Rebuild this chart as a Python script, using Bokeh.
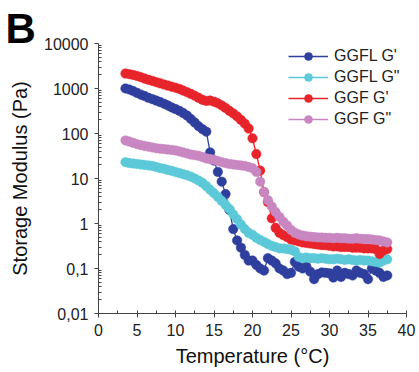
from bokeh.plotting import figure
from bokeh.models import Range1d, FixedTicker, SingleIntervalTicker, Legend, LegendItem, Title
from bokeh.embed import file_html
from bokeh.resources import INLINE

temperature = [3.5, 4.0, 4.5, 5.0, 5.5, 6.0, 6.5, 7.0, 7.5, 8.0, 8.5, 9.0, 9.5, 10.0,
               10.5, 11.0, 11.5, 12.0, 12.5, 13.0, 13.5, 14.0, 14.5, 15.0, 15.5, 16.0,
               16.5, 17.0, 17.5, 18.0, 18.5, 19.0, 19.5, 20.0, 20.5, 21.0, 21.5, 22.0,
               22.5, 23.0, 23.5, 24.0, 24.5, 25.0, 25.5, 26.0, 26.5, 27.0, 27.5, 28.0,
               28.5, 29.0, 29.5, 30.0, 30.5, 31.0, 31.5, 32.0, 32.5, 33.0, 33.5, 34.0,
               34.5, 35.0, 35.5, 36.0, 36.5, 37.0, 37.5]

ggfl_g1 = [1000, 950, 880, 800, 730, 680, 620, 580, 540, 500, 460, 420, 380, 350,
           320, 285, 250, 210, 175, 145, 125, 110, 38, 25, 14, 8.5,
           4.5, 2.0, 0.75, 0.42, 0.29, 0.2, 0.15, 0.15, 0.12, 0.1, 0.09, 0.17,
           0.15, 0.13, 0.1, 0.09, 0.075, 0.08, 0.14, 0.11, 0.1, 0.11, 0.085, 0.058,
           0.075, 0.082, 0.08, 0.078, 0.063, 0.09, 0.065, 0.08, 0.075, 0.07, 0.09, 0.08,
           0.075, 0.058, 0.1, 0.09, 0.08, 0.065, 0.07]

ggfl_g2 = [23, 22, 21.5, 21, 20.5, 20, 19.5, 19, 18, 17, 16.5, 15.5, 14.8, 14,
           13.2, 12.5, 11.8, 11, 10, 9, 8, 6.8, 5.6, 4.7, 3.9, 3.2,
           2.6, 2.1, 1.6, 1.25, 0.95, 0.75, 0.62, 0.56, 0.48, 0.43, 0.39, 0.35,
           0.32, 0.3, 0.28, 0.28, 0.27, 0.26, 0.24, 0.18, 0.17, 0.175, 0.17, 0.17,
           0.165, 0.17, 0.165, 0.16, 0.16, 0.165, 0.16, 0.155, 0.16, 0.155, 0.15, 0.155,
           0.15, 0.15, 0.145, 0.14, 0.135, 0.15, 0.16]

ggf_g1 = [2150, 2080, 2000, 1900, 1780, 1660, 1560, 1470, 1380, 1300, 1230, 1160, 1100, 1040,
          980, 900, 830, 760, 690, 620, 560, 530, 540, 510, 470, 420,
          370, 320, 280, 240, 200, 165, 129, 78, 35, 15, 5, 3.0,
          1.3, 0.8, 0.62, 0.55, 0.5, 0.44, 0.42, 0.40, 0.38, 0.37, 0.36, 0.35,
          0.34, 0.33, 0.33, 0.32, 0.31, 0.31, 0.30, 0.30, 0.30, 0.29, 0.29, 0.29,
          0.28, 0.28, 0.28, 0.27, 0.21, 0.25, 0.27]

ggf_g2 = [70, 66, 62, 58, 55, 53, 51, 49, 47, 46, 45, 44, 43, 42,
          40, 38, 36, 34, 33, 32, 30, 28, 27, 26, 24.5, 23,
          22, 21, 20.5, 20, 19.5, 19, 18, 17, 14, 8.5, 5, 3.3,
          2.4, 1.8, 1.4, 1.1, 0.9, 0.72, 0.62, 0.57, 0.54, 0.52, 0.51, 0.5,
          0.49, 0.49, 0.48, 0.48, 0.47, 0.48, 0.47, 0.47, 0.46, 0.46, 0.47, 0.46,
          0.45, 0.45, 0.44, 0.43, 0.42, 0.4, 0.38]

series_names = ["GGFL G'", 'GGFL G"', "GGF G'", 'GGF G"']
series_values = [ggfl_g1, ggfl_g2, ggf_g1, ggf_g2]
series_colors = ["#2E3F9E", "#5CC9D9", "#E8242B", "#C987C2"]

y_ticks = [0.01, 0.1, 1, 10, 100, 1000, 10000]
y_tick_labels = ["0,01", "0,1", "1", "10", "100", "1000", "10000"]

panel_letter = "B"

FONT = "Liberation Sans"

p = figure(width=419, height=372, y_axis_type="log",
           x_range=Range1d(0, 40), y_range=Range1d(0.01, 10000),
           output_backend="svg", toolbar_location=None,
           min_border_left=98, min_border_right=13,
           min_border_top=43, min_border_bottom=59)
p.outline_line_color = None
p.xgrid.visible = False
p.ygrid.visible = False
p.background_fill_color = "white"
p.border_fill_color = "white"

letter_title = Title(text=panel_letter, align="left", offset=-93, standoff=-16,
                     text_font=FONT, text_font_size="42px", text_font_style="bold",
                     text_color="black")
spacer_title = Title(text=" ", align="left", standoff=0, text_font=FONT,
                     text_font_size="6px", text_color="white")
p.add_layout(letter_title, "above")
p.add_layout(spacer_title, "above")

items = []
for name, vals, col in zip(series_names, series_values, series_colors):
    lr = p.line(temperature, vals, line_color=col, line_width=1.3)
    sr = p.scatter(temperature, vals, size=9.5, fill_color=col, line_color=col, line_width=0.5)
    items.append(LegendItem(label=name, renderers=[lr, sr]))

legend = Legend(items=items, location=(190, 184), border_line_color=None,
                background_fill_alpha=0, padding=0, margin=0, spacing=1,
                glyph_width=40, glyph_height=20, label_height=20,
                label_standoff=6, label_text_font=FONT,
                label_text_font_size="16px", label_text_color="#222222")
p.add_layout(legend, "center")

minor = []
for d in y_ticks[:-1]:
    for k in range(2, 10):
        minor.append(d * k)
p.yaxis.ticker = FixedTicker(ticks=y_ticks, minor_ticks=minor)
p.yaxis.major_label_overrides = {t: l for t, l in zip(y_ticks, y_tick_labels)}
p.xaxis.ticker = SingleIntervalTicker(interval=5, num_minor_ticks=2)

for ax in (p.xaxis, p.yaxis):
    ax.axis_line_color = "#444444"
    ax.major_tick_line_color = "#444444"
    ax.minor_tick_line_color = "#444444"
    ax.major_tick_out = 4
    ax.major_tick_in = 0
    ax.minor_tick_out = 0
    ax.minor_tick_in = 3
    ax.major_label_text_font = FONT
    ax.major_label_text_font_size = "16px"
    ax.major_label_text_color = "#222222"
    ax.major_label_standoff = 6
    ax.axis_label_text_font = FONT
    ax.axis_label_text_font_size = "20px"
    ax.axis_label_text_font_style = "normal"
    ax.axis_label_text_color = "#111111"

p.xaxis.axis_label = "Temperature (°C)"
p.yaxis.axis_label = "Storage Modulus (Pa)"
p.xaxis.axis_label_standoff = 6
p.yaxis.axis_label_standoff = 10

open("out.html", "w").write(file_html(p, INLINE))
